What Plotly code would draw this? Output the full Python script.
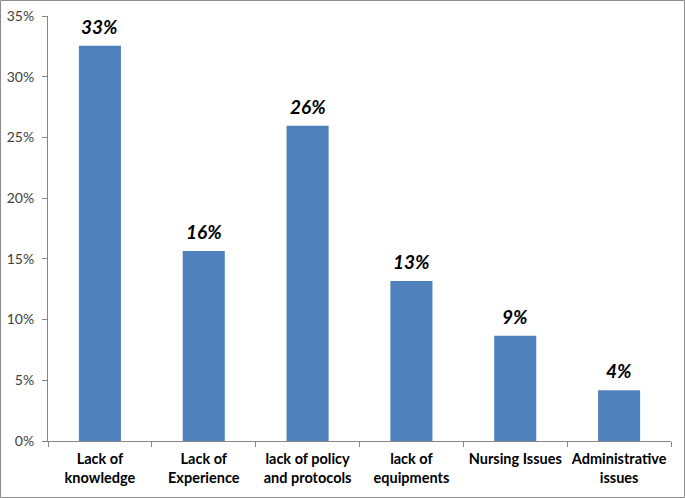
import plotly.graph_objects as go

categories = ["Lack of<br>knowledge", "Lack of<br>Experience", "lack of policy<br>and protocols",
              "lack of<br>equipments", "Nursing Issues<br> ", "Administrative<br>issues"]
values = [32.56, 15.64, 25.97, 13.17, 8.66, 4.18]
value_labels = ["33%", "16%", "26%", "13%", "9%", "4%"]
y_ticks = [0, 5, 10, 15, 20, 25, 30, 35]

W, H = 685, 498
L, R, T, B = 48, 14, 16, 57
pw, ph = W - L - R, H - T - B

fig = go.Figure()
fig.add_trace(go.Bar(x=categories, y=values, marker=dict(color="#4F81BD", line=dict(width=0)),
                     width=0.405, hoverinfo="skip"))

for c, v, t in zip(categories, values, value_labels):
    fig.add_annotation(x=c, y=v, text="<b><i>" + t + "</i></b>", showarrow=False,
                       yanchor="bottom", yshift=6,
                       font=dict(family="Lato, Liberation Sans, sans-serif", size=19, color="#000000"))

fig.add_shape(type="rect", xref="paper", yref="paper",
              x0=-(L - 0.5) / pw, x1=1 + (R - 0.5) / pw,
              y0=-(B - 0.5) / ph, y1=1 + (T - 0.5) / ph,
              line=dict(color="#8c8c8c", width=1), fillcolor="rgba(0,0,0,0)", layer="below")

fig.update_layout(
    width=W, height=H,
    margin=dict(l=L, r=R, t=T, b=B, pad=0, autoexpand=False),
    plot_bgcolor="white", paper_bgcolor="white",
    showlegend=False,
    font=dict(family="Lato, Liberation Sans, sans-serif", color="#000000"),
    xaxis=dict(showline=True, linecolor="#868686", linewidth=1, automargin=False,
               ticks="outside", ticklen=5, tickcolor="#868686", tickson="boundaries",
               ticklabelstandoff=5, tickangle=0,
               tickfont=dict(size=14.5, color="#000000", family="Lato, Liberation Sans, sans-serif", weight="bold"),
               showgrid=False, zeroline=False, fixedrange=True),
    yaxis=dict(range=[0, 35], tickvals=y_ticks, ticktext=[f"{v}%" for v in y_ticks],
               showline=True, linecolor="#868686", linewidth=1, automargin=False,
               ticks="outside", ticklen=5, tickcolor="#868686", ticklabelstandoff=5,
               tickfont=dict(size=14, color="#404040"),
               showgrid=False, zeroline=False, fixedrange=True),
)

fig.write_html("out.html", config={"displayModeBar": False},
               post_script="document.body.style.margin='0';document.body.style.overflow='hidden';")
